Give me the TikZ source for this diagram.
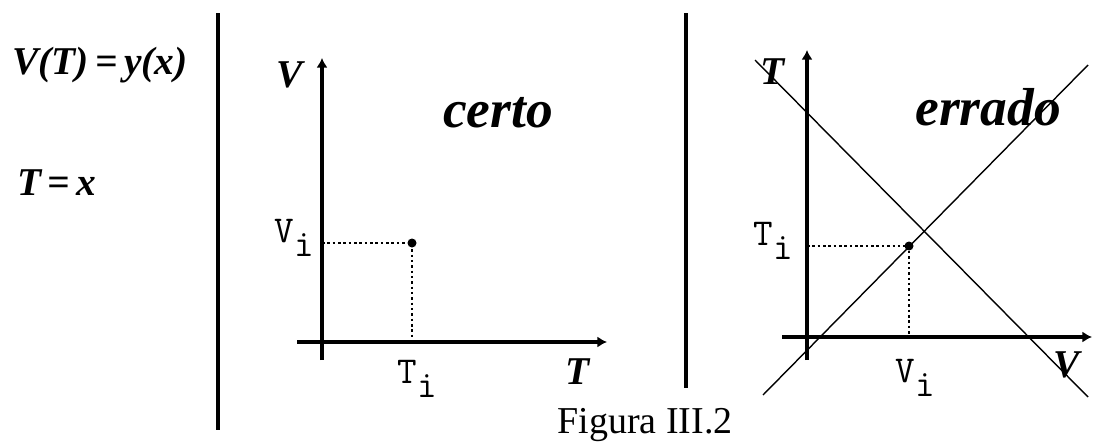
\documentclass[tikz,border=0pt]{standalone}
\usepackage{fontspec}
\setmainfont{Liberation Serif}
\usetikzlibrary{arrows.meta}

\tikzset{
  bigital/.style={font=\fontsize{28}{30}\selectfont\bfseries\itshape},
  word/.style={font=\fontsize{38}{40}\selectfont\bfseries\itshape},
  monotext/.style={font=\fontsize{27}{29}\selectfont\ttfamily, inner sep=0pt},
  axis/.style={line width=2.4pt, -{Latex[length=2.4mm,width=2.8mm]}},
  separator/.style={line width=2.5pt},
  guide/.style={line width=1.8pt, dotted},
  diag/.style={line width=1pt}
}

\newcommand{\subi}[1]{#1\raisebox{-0.38em}{i}}

\begin{document}
\begin{tikzpicture}[x=0.025cm, y=-0.025cm]
    \useasboundingbox (0,0) rectangle (1093,447);

    % --- FORMULES (Links) ---
    \node[bigital] (vt) at (100,65) {V(T)\,=\,y(x)};
    \node[bigital] (tx) at (57,183) {T\,=\,x};

    % scheidingslijnen
    \coordinate (s1a) at (218,13);
    \coordinate (s1b) at (218,430);
    \coordinate (s2a) at (686,13);
    \coordinate (s2b) at (686,388);
    \draw[separator] (s1a) -- (s1b);
    \draw[separator] (s2a) -- (s2b);

    % --- CERTO (Midden) ---
    \coordinate (m-vlow) at (322,360);
    \coordinate (m-vtop) at (322,58);
    \coordinate (m-tleft) at (297,342);
    \coordinate (m-tright) at (607,342);
    \draw[axis] (m-vlow) -- (m-vtop);
    \draw[axis] (m-tleft) -- (m-tright);

    \node[bigital] (m-vlab) at (290,75) {V};
    \node[bigital] (m-tlab) at (578,372) {T};
    \node[word] (certo) at (498,113) {certo};

    % punt en hulplijnen
    \coordinate (m-p) at (412,243);
    \coordinate (m-pv) at (322,243);
    \coordinate (m-pt) at (412,342);
    \draw[guide] (m-pv) -- (m-p) -- (m-pt);
    \fill (m-p) circle (4.5);
    \node[monotext] (m-vi) at (294,238) {\subi{V}};
    \node[monotext] (m-ti) at (417,379) {\subi{T}};

    % --- ERRADO (Rechts) ---
    \coordinate (r-tlow) at (807,360);
    \coordinate (r-ttop) at (807,50);
    \coordinate (r-vleft) at (782,337);
    \coordinate (r-vright) at (1092,337);
    \draw[axis] (r-tlow) -- (r-ttop);
    \draw[axis] (r-vleft) -- (r-vright);

    % diagonalen
    \coordinate (d1a) at (755,60);
    \coordinate (d1b) at (1088,397);
    \coordinate (d2a) at (763,395);
    \coordinate (d2b) at (1088,65);
    \draw[diag] (d1a) -- (d1b);
    \draw[diag] (d2a) -- (d2b);

    \node[bigital] (r-tlab) at (773,72) {T};
    \node[bigital] (r-vlab) at (1067,365) {V};
    \node[word] (errado) at (988,107) {errado};

    % punt en hulplijnen
    \coordinate (r-p) at (909,246);
    \coordinate (r-pt) at (807,246);
    \coordinate (r-pv) at (909,337);
    \draw[guide] (r-pt) -- (r-p) -- (r-pv);
    \fill (r-p) circle (4.5);
    \node[monotext] (r-ti) at (773,241) {\subi{T}};
    \node[monotext] (r-vi) at (915,378) {\subi{V}};

    % onderschrift
    \node[font=\fontsize{27}{29}\selectfont] (caption) at (645,425) {Figura III.2};
\end{tikzpicture}
\end{document}
